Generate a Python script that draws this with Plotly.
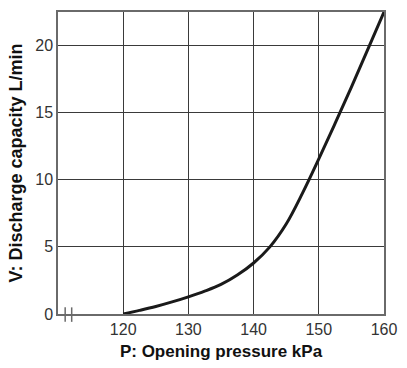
import plotly.graph_objects as go

# Data
pressure_kpa = [120, 122.5, 125, 127.5, 130, 132.5, 135, 137.5, 140, 142.5, 145, 147.5, 150, 152.5, 155, 157.5, 160]
discharge_lpm = [0, 0.27, 0.56, 0.9, 1.28, 1.7, 2.2, 2.9, 3.8, 5.0, 6.7, 9.0, 11.55, 14.2, 16.9, 19.7, 22.5]

x_ticks = [120, 130, 140, 150, 160]
y_ticks = [0, 5, 10, 15, 20]
x_range = [110, 160]
y_range = [0, 22.5]
break_marks_x = [111.1, 112.1]

fig = go.Figure()
fig.add_trace(go.Scatter(
    x=pressure_kpa, y=discharge_lpm, mode="lines",
    line=dict(color="#1a1a1a", width=3, shape="spline", smoothing=1.0),
    showlegend=False, hoverinfo="skip",
))

grid_col = "#3a3a3a"
frame_col = "#6a6a6a"

fig.update_layout(
    width=407, height=368,
    margin=dict(l=58, r=15, t=10, b=53),
    paper_bgcolor="white", plot_bgcolor="white",
    font=dict(family="Liberation Sans, Arial, sans-serif", color="#333333", size=16),
    xaxis=dict(
        range=x_range, tickvals=x_ticks, ticktext=[str(v) for v in x_ticks],
        showgrid=True, gridcolor=grid_col, gridwidth=1, zeroline=False,
        showline=True, linecolor=frame_col, linewidth=1.5, mirror=True,
        ticks="", tickfont=dict(size=16, color="#333333"),
        title=dict(text="<b>P: Opening pressure kPa</b>", font=dict(size=17, color="#111111"), standoff=8),
        fixedrange=True,
    ),
    yaxis=dict(
        range=y_range, tickvals=y_ticks, ticktext=[str(v) for v in y_ticks],
        showgrid=True, gridcolor=grid_col, gridwidth=1, zeroline=False,
        showline=True, linecolor=frame_col, linewidth=1.5, mirror=True,
        ticks="", tickfont=dict(size=16, color="#333333"),
        title=dict(text="<b>V: Discharge capacity L/min</b>", font=dict(size=18, color="#111111"), standoff=8),
        fixedrange=True,
    ),
)

# Axis break marks "||"
for bx in break_marks_x:
    fig.add_shape(type="line", xref="x", yref="paper", x0=bx, x1=bx, y0=-0.026, y1=0.022,
                  line=dict(color=frame_col, width=1.5), layer="above")

fig.write_html("out.html")
